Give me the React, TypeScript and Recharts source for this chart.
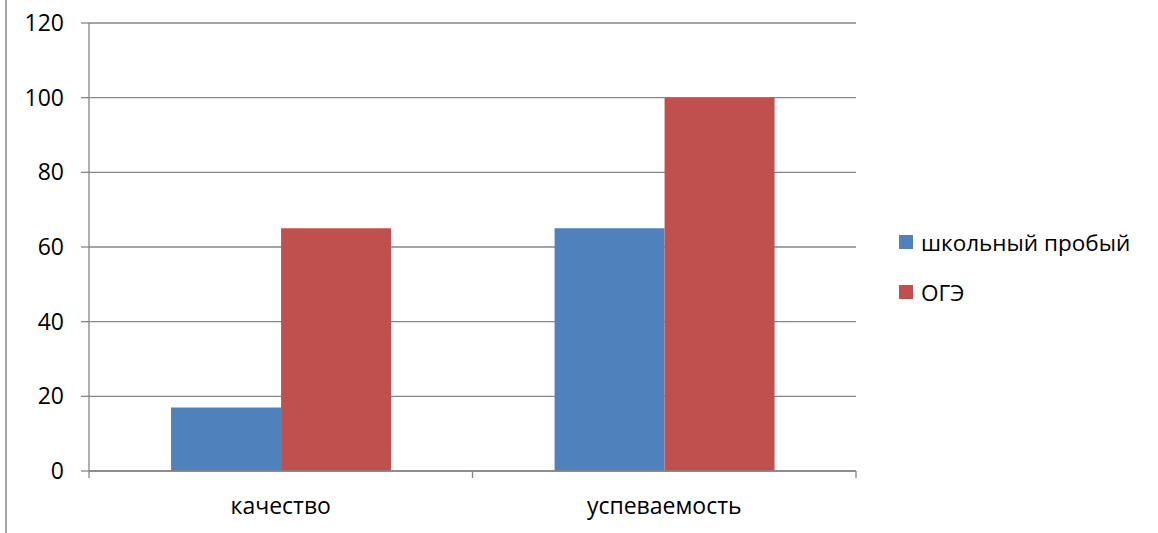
import React from "react";
import { BarChart, Bar, XAxis, YAxis, CartesianGrid } from "recharts";

const categories = ["качество", "успеваемость"];
const schoolTrial = [17, 65];
const oge = [65, 100];
const yTicks = [0, 20, 40, 60, 80, 100, 120];
const seriesNames = ["школьный пробый", "ОГЭ"];
const colors = ["#4F81BD", "#C0504D"];

const data = categories.map((c, i) => ({ name: c, a: schoolTrial[i], b: oge[i] }));

const FONT = "'Open Sans', 'DejaVu Sans', sans-serif";
const GRID = "#868686";

const CategoryTick = (props: any) => {
  const { x, y, payload, index } = props;
  const half = payload && payload.offset ? payload.offset : 0;
  return (
    <g>
      {index === 0 && <line x1={x - half} x2={x - half} y1={y} y2={y + 7} stroke={GRID} strokeWidth={1.3} />}
      <line x1={x + half} x2={x + half} y1={y} y2={y + 7} stroke={GRID} strokeWidth={1.3} />
      <text x={x} y={y + 27} dy="0.71em" textAnchor="middle" fill="#000" fontSize={23} fontFamily={FONT}>
        {payload.value}
      </text>
    </g>
  );
};

export default function App() {
  return (
    <div style={{ position: "absolute", left: 0, top: 0, width: 1158, height: 533, background: "#fff" }}>
      <div style={{ position: "absolute", left: 5, top: 0, width: 1.5, height: 533, background: "#a6a6a6" }} />
      <BarChart
        width={1158}
        height={533}
        data={data}
        margin={{ top: 23, right: 302, bottom: 0, left: 0 }}
        barCategoryGap="21.4%"
        barGap={0}
      >
        <CartesianGrid vertical={false} stroke={GRID} strokeWidth={1.3} />
        <XAxis
          dataKey="name"
          height={62}
          tickLine={false}
          tickSize={0}
          tickMargin={0}
          interval={0}
          axisLine={{ stroke: GRID, strokeWidth: 1.3 }}
          tick={<CategoryTick />}
        />
        <YAxis
          width={89}
          domain={[0, 120]}
          ticks={yTicks}
          tickSize={8}
          tickMargin={17}
          tickLine={{ stroke: GRID, strokeWidth: 1.3 }}
          axisLine={{ stroke: GRID, strokeWidth: 1.3 }}
          tick={{ fill: "#000", fontSize: 23, fontFamily: FONT }}
        />
        <Bar dataKey="a" name={seriesNames[0]} fill={colors[0]} isAnimationActive={false} />
        <Bar dataKey="b" name={seriesNames[1]} fill={colors[1]} isAnimationActive={false} />
      </BarChart>
      <div style={{ position: "absolute", left: 899, top: 226, fontFamily: FONT, fontSize: 22.5, color: "#000" }}>
        {seriesNames.map((n, i) => (
          <div key={n} style={{ display: "flex", alignItems: "center", height: 32, marginBottom: i === 0 ? 18 : 0, whiteSpace: "nowrap" }}>
            <span style={{ display: "inline-block", width: 14, height: 14, background: colors[i], marginRight: 8 }} />
            <span>{n}</span>
          </div>
        ))}
      </div>
    </div>
  );
}
